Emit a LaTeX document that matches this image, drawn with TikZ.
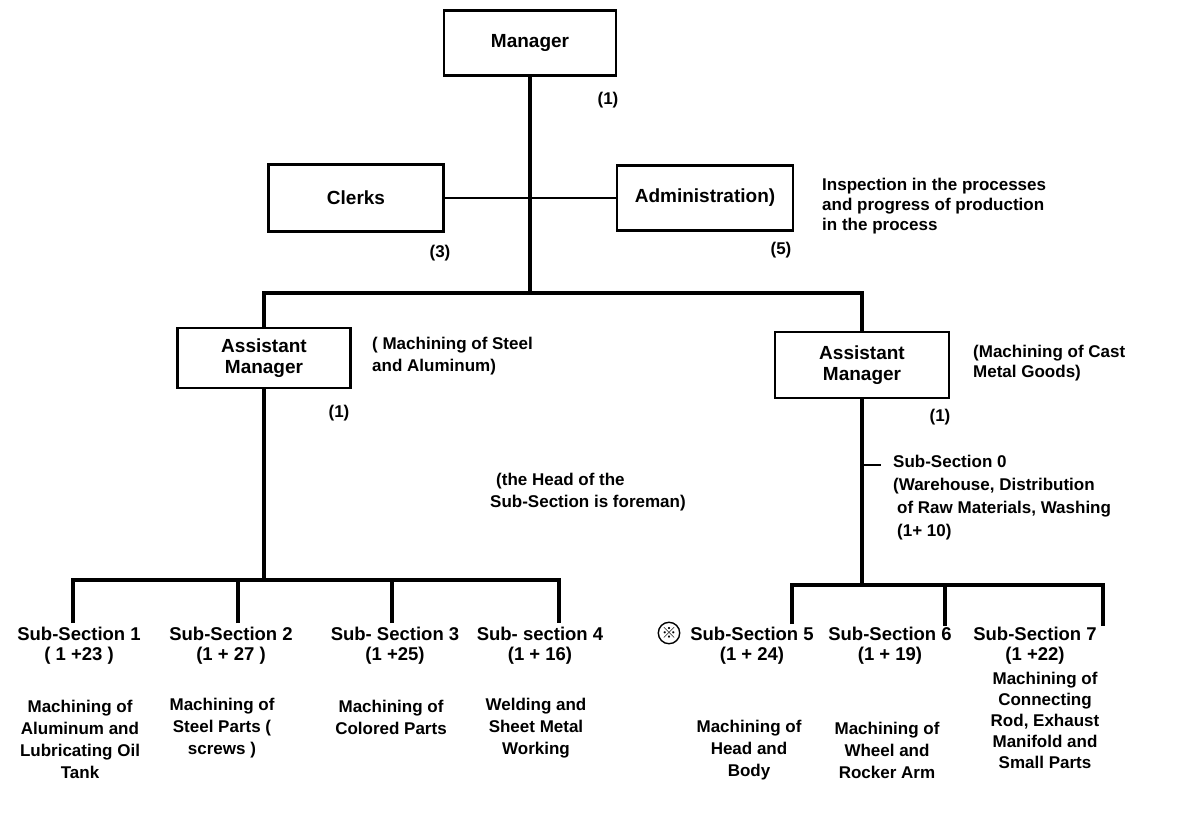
\documentclass[tikz,border=0pt]{standalone}
\usepackage{fontspec}
\setmainfont{Liberation Sans}
\newfontfamily\cjkfont{Noto Sans CJK SC}

\begin{document}
\begin{tikzpicture}[
  x=1pt, y=-1pt,
  font=\bfseries\fontsize{17}{22}\selectfont,
  box/.style={draw, line width=2.2pt, align=center, minimum width=174pt, minimum height=66pt, inner sep=2pt, font=\bfseries\fontsize{19}{21}\selectfont},
  note/.style={align=left, inner sep=0pt, anchor=west},
  head/.style={align=center, inner sep=0pt, font=\bfseries\fontsize{18.5}{20}\selectfont},
  desc/.style={align=center, inner sep=0pt},
  count/.style={inner sep=0pt},
  trunk/.style={line width=3.5pt},
  link/.style={line width=1.3pt}
]
\useasboundingbox (0,0) rectangle (1185,815);

\node[box, minimum width=172pt, minimum height=65pt] (mgr) at (530,43) {Manager};
\node[count] (mgr n) at (608,100) {(1)};

\node[box, minimum width=175pt, minimum height=67pt] (clerks) at (356,198) {Clerks};
\node[count] (clerks n) at (440,253) {(3)};
\node[box, minimum width=176pt, minimum height=65pt] (admin) at (705,198) {Administration)};
\node[count] (admin n) at (781,250) {(5)};
\node[note, font=\bfseries\fontsize{17}{20}\selectfont] (inspect) at (822,206)
  {Inspection in the processes\\and progress of production\\in the process};

\node[box, minimum width=173pt, minimum height=60pt] (asst1) at (264,358) {Assistant\\Manager};
\node[count] (asst1 n) at (339,413) {(1)};
\node[note] (steel) at (372,356) {( Machining of Steel\\and Aluminum)};

\node[box, minimum width=174pt, minimum height=66pt] (asst2) at (862,365) {Assistant\\Manager};
\node[count] (asst2 n) at (940,417) {(1)};
\node[note, font=\bfseries\fontsize{17}{20}\selectfont] (cast) at (973,363) {(Machining of Cast\\Metal Goods)};

\node[note] (foreman) at (490,492) {\hspace*{6pt}(the Head of the\\Sub-Section is foreman)};

\node[note, font=\bfseries\fontsize{17}{23}\selectfont] (ss0) at (893,498)
  {Sub-Section 0\\(Warehouse, Distribution\\\hspace*{4pt}of Raw Materials, Washing\\\hspace*{4pt}(1+ 10)};

\node[head] (ss1) at (79,646) {Sub-Section 1\\( 1 +23 )};
\node[head] (ss2) at (231,646) {Sub-Section 2\\(1 + 27 )};
\node[head] (ss3) at (395,646) {Sub- Section 3\\(1 +25)};
\node[head] (ss4) at (540,646) {Sub- section 4\\(1 + 16)};
\node[head] (ss5) at (752,646) {Sub-Section 5\\(1 + 24)};
\node[head] (ss6) at (890,646) {Sub-Section 6\\(1 + 19)};
\node[head] (ss7) at (1035,646) {Sub-Section 7\\(1 +22)};

\node[circle, draw, line width=1.4pt, inner sep=1pt, font=\cjkfont\fontsize{15}{15}\selectfont] (mark) at (669,633) {※};

\node[desc] (d1) at (80,739) {Machining of\\Aluminum and\\Lubricating Oil\\Tank};
\node[desc] (d2) at (222,728) {Machining of\\Steel Parts (\\screws )};
\node[desc] (d3) at (391,717) {Machining of\\Colored Parts};
\node[desc] (d4) at (536,728) {Welding and\\Sheet Metal\\Working};
\node[desc] (d5) at (749,750) {Machining of\\Head and\\Body};
\node[desc] (d6) at (887,750) {Machining of\\Wheel and\\Rocker Arm};
\node[desc, font=\bfseries\fontsize{17}{21}\selectfont] (d7) at (1045,720)
  {Machining of\\Connecting\\Rod, Exhaust\\Manifold and\\Small Parts};

\coordinate (tbus) at (530,293);
\coordinate (lbus) at (264,580);
\coordinate (rbus) at (862,585);
\coordinate (c1) at (73,623);
\coordinate (c2) at (238,623);
\coordinate (c3) at (392,623);
\coordinate (c4) at (559,623);
\coordinate (c5) at (792,624);
\coordinate (c6) at (945,626);
\coordinate (c7) at (1103,626);
\coordinate (s0a) at (862,465);
\coordinate (s0b) at (881,465);

\draw[trunk] (mgr.south) -- (tbus);
\draw[trunk] (asst1.north) |- (tbus) -| (asst2.north);
\draw[link] (clerks.east) -- (admin.west);

\draw[trunk] (asst1.south) -- (lbus);
\draw[trunk] (c1) |- (lbus) -| (c4);
\draw[trunk] (c2) -- (c2 |- lbus);
\draw[trunk] (c3) -- (c3 |- lbus);

\draw[trunk] (asst2.south) -- (rbus);
\draw[trunk] (c5) |- (rbus) -| (c7);
\draw[trunk] (c6) -- (c6 |- rbus);
\draw[line width=2pt] (s0a) -- (s0b);

\end{tikzpicture}
\end{document}
